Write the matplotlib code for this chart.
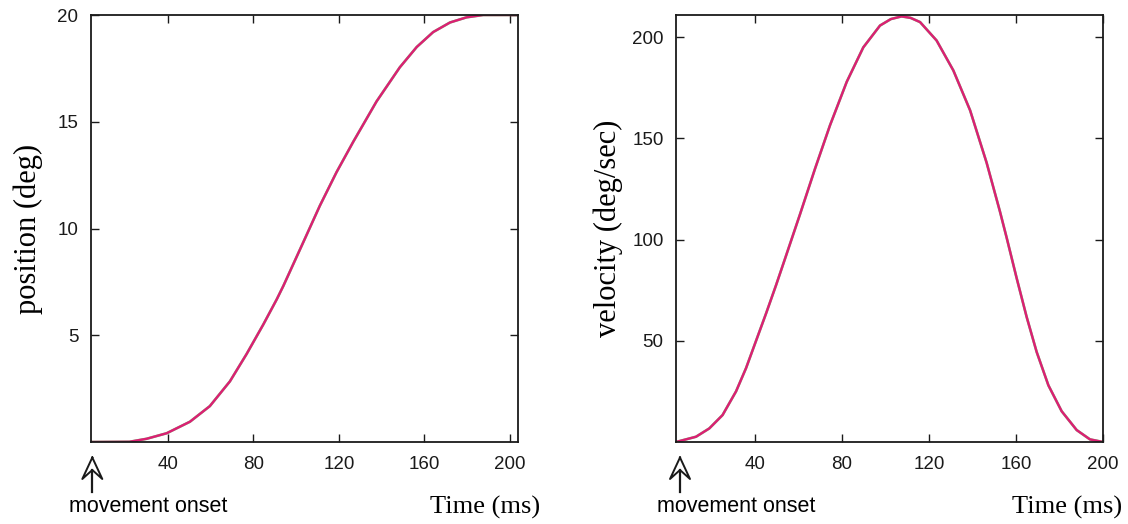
import matplotlib
matplotlib.use("Agg")
import matplotlib.pyplot as plt
from matplotlib.lines import Line2D

# ---- data ----
pos_t = [4, 22, 30, 39.4, 50.3, 59.6, 69.0, 76.8, 84.6, 90.9, 94.0, 103.3, 111.1,
         118.9, 126.7, 137.6, 148.5, 156.4, 164.1, 172.0, 179.7, 187.5, 195, 204]
pos_deg = [0, 0.01, 0.15, 0.41, 0.95, 1.68, 2.84, 4.12, 5.5, 6.68, 7.31, 9.35, 11.07,
           12.64, 14.06, 15.95, 17.55, 18.5, 19.2, 19.65, 19.89, 20.0, 20.0, 20.0]

vel_t = [3.7, 12.9, 19.0, 25.1, 31.3, 35.9, 40.5, 45.1, 49.7, 53.8, 60.7, 67.6, 74.5,
         82.2, 89.8, 97.5, 102.5, 107.4, 111.5, 115.9, 123.5, 131.2, 138.9, 146.5,
         152.6, 155.7, 160.3, 164.9, 169.5, 174.9, 181.0, 187.9, 194.0, 200]
vel_dps = [0, 2.6, 6.7, 13.3, 25, 36.5, 50, 63.5, 77.5, 90.5, 112.5, 135, 156.5,
           178, 195, 205.8, 209, 210.3, 209.6, 207.5, 198.4, 183.6, 163.9, 138,
           114, 101, 81, 61.8, 44.5, 28, 15.2, 5.9, 1.3, 0]

x_ticks = [40, 80, 120, 160, 200]
pos_ticks = [5, 10, 15, 20]
vel_ticks = [50, 100, 150, 200]

SANS = ['Liberation Sans', 'DejaVu Sans']
SERIF = ['Liberation Serif', 'DejaVu Serif']
plt.rcParams['font.family'] = SANS

fig = plt.figure(figsize=(11.28, 5.24), dpi=100)
W, H = 1128, 524

def ax_at(x0, x1, y0, y1):
    return fig.add_axes([x0 / W, 1 - y1 / H, (x1 - x0) / W, (y1 - y0) / H])

ax1 = ax_at(91, 518, 15, 442)
ax2 = ax_at(676, 1103, 15, 442)

MAG = '#dc1f73'
GRN = '#4aa84a'

for ax, t, v, xl, yl, yt, ylab, lx in [
        (ax1, pos_t, pos_deg, (4, 203.8), (0, 20), pos_ticks, 'position (deg)', -0.113),
        (ax2, vel_t, vel_dps, (3.7, 200), (0, 211), vel_ticks, 'velocity (deg/sec)', -0.125)]:
    ax.plot(t, v, color=GRN, lw=1.9, alpha=0.7, solid_capstyle='round')
    ax.plot(t, v, color=MAG, lw=1.7, solid_capstyle='round')
    ax.set_xlim(*xl)
    ax.set_ylim(*yl)
    ax.set_xticks(x_ticks)
    ax.set_yticks(yt)
    ax.tick_params(direction='in', length=6, width=1, top=True, right=True,
                   labelsize=13.5, pad=10, colors='#1a1a1a')
    ax.tick_params(axis='y', pad=9)
    for s in ax.spines.values():
        s.set_linewidth(1.3)
        s.set_color('#1a1a1a')
    ax.set_ylabel(ylab, family=SERIF, fontsize=22)
    ax.yaxis.set_label_coords(lx, 0.5)

# x-axis titles and onset annotations (figure pixel positions)
def fig_text(x, y, s, **kw):
    fig.text(x / W, 1 - y / H, s, **kw)

fig_text(540, 507, 'Time (ms)', family=SERIF, fontsize=19, ha='right', va='center')
fig_text(1122, 507, 'Time (ms)', family=SERIF, fontsize=19, ha='right', va='center')
fig_text(69, 506, 'movement onset', fontsize=15.5, ha='left', va='center')
fig_text(657, 506, 'movement onset', fontsize=15.5, ha='left', va='center')

def onset_arrow(xc):
    tip, base, notch, bottom, hw = 457.5, 479, 470, 492, 10
    xs = [xc, xc - hw, xc, xc + hw, xc]
    ys = [tip, base, notch, base, tip]
    fig.add_artist(Line2D([x / W for x in xs], [1 - y / H for y in ys],
                          color='#1a1a1a', lw=1.4, transform=fig.transFigure))
    fig.add_artist(Line2D([xc / W, xc / W], [1 - notch / H, 1 - bottom / H],
                          color='#1a1a1a', lw=1.6, transform=fig.transFigure))

onset_arrow(92.3)
onset_arrow(680)

fig.savefig('out.png', dpi=100)
